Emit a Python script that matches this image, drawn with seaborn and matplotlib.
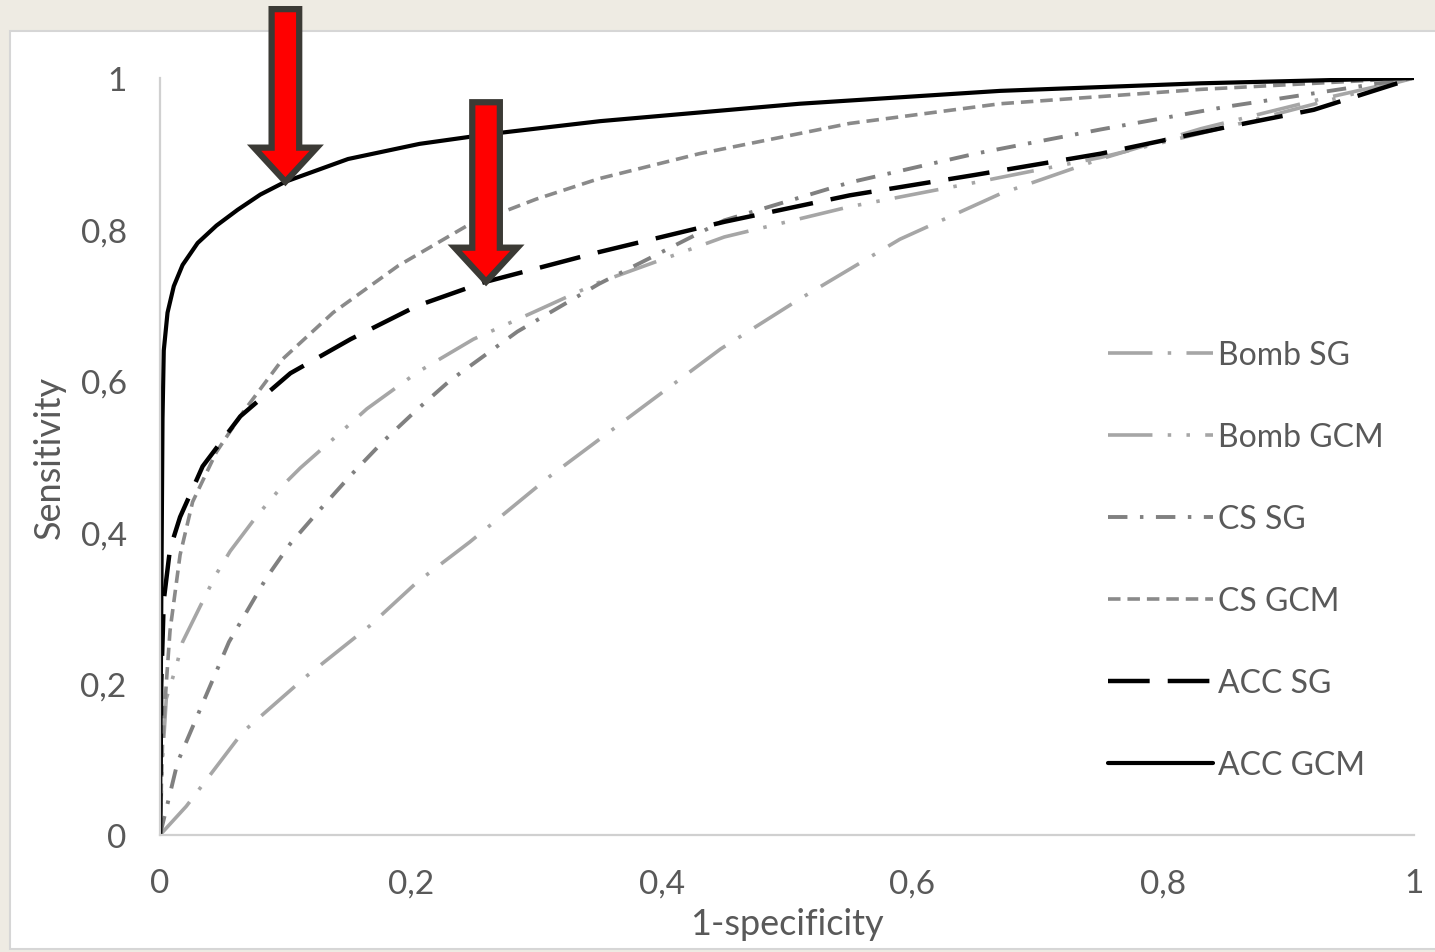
import numpy as np
import pandas as pd
import matplotlib
matplotlib.use("Agg")
import matplotlib.pyplot as plt
from matplotlib.patches import Rectangle, FancyArrow
import seaborn as sns

# ROC curves (x = 1-specificity, y = sensitivity)
bomb_sg_x = [0, 0.021, 0.066, 0.117, 0.167, 0.205, 0.247, 0.311, 0.383, 0.447, 0.51, 0.59, 0.67, 0.75, 0.83, 0.92, 1]
bomb_sg_y = [0, 0.038, 0.136, 0.21, 0.276, 0.334, 0.387, 0.474, 0.563, 0.642, 0.708, 0.787, 0.847, 0.893, 0.933, 0.97, 1]

bomb_gcm_x = [0, 0.002, 0.005, 0.013, 0.018, 0.032, 0.045, 0.056, 0.077, 0.098, 0.112, 0.138, 0.165, 0.205, 0.25,
              0.297, 0.35, 0.45, 0.55, 0.65, 0.75, 0.85, 1]
bomb_gcm_y = [0, 0.1, 0.18, 0.223, 0.255, 0.302, 0.345, 0.375, 0.421, 0.462, 0.485, 0.523, 0.563, 0.611, 0.655,
              0.69, 0.73, 0.79, 0.83, 0.862, 0.895, 0.935, 1]

cs_sg_x = [0, 0.014, 0.032, 0.055, 0.085, 0.104, 0.125, 0.152, 0.178, 0.205, 0.231, 0.285, 0.35, 0.45, 0.55,
           0.65, 0.75, 0.85, 1]
cs_sg_y = [0, 0.096, 0.166, 0.255, 0.34, 0.385, 0.425, 0.475, 0.52, 0.562, 0.6, 0.665, 0.728, 0.812, 0.862,
           0.9, 0.932, 0.962, 1]

cs_gcm_x = [0, 0.002, 0.005, 0.008, 0.016, 0.026, 0.045, 0.066, 0.098, 0.138, 0.19, 0.245, 0.3, 0.35, 0.43,
            0.55, 0.67, 0.83, 1]
cs_gcm_y = [0, 0.12, 0.2, 0.27, 0.37, 0.44, 0.506, 0.558, 0.629, 0.69, 0.752, 0.805, 0.84, 0.867, 0.9,
            0.94, 0.966, 0.985, 1]

acc_sg_x = [0, 0.001, 0.003, 0.008, 0.016, 0.034, 0.064, 0.104, 0.152, 0.205, 0.258, 0.35, 0.45, 0.55, 0.65,
            0.75, 0.85, 0.92, 1]
acc_sg_y = [0, 0.2, 0.31, 0.378, 0.42, 0.487, 0.553, 0.61, 0.655, 0.699, 0.73, 0.77, 0.81, 0.845, 0.872,
            0.9, 0.935, 0.958, 1]

acc_gcm_x = [0, 0.001, 0.002, 0.003, 0.006, 0.011, 0.018, 0.03, 0.045, 0.062, 0.08, 0.1, 0.15, 0.207, 0.263,
             0.351, 0.51, 0.67, 0.83, 1]
acc_gcm_y = [0, 0.3, 0.55, 0.64, 0.69, 0.725, 0.753, 0.782, 0.805, 0.826, 0.846, 0.863, 0.893, 0.913, 0.926,
             0.943, 0.966, 0.983, 0.993, 1]

labels = ["Bomb SG", "Bomb GCM", "CS SG", "CS GCM", "ACC SG", "ACC GCM"]
xs = [bomb_sg_x, bomb_gcm_x, cs_sg_x, cs_gcm_x, acc_sg_x, acc_gcm_x]
ys = [bomb_sg_y, bomb_gcm_y, cs_sg_y, cs_gcm_y, acc_sg_y, acc_gcm_y]

ticks = [0, 0.2, 0.4, 0.6, 0.8, 1]
tick_labels = ["0", "0,2", "0,4", "0,6", "0,8", "1"]

# arrows point at ACC GCM and ACC SG
arrow_x = [0.1, 0.26]
arrow_top = [1.091, 0.968]

# line styles (dash lengths in points)
colors = ["#a6a6a6", "#a6a6a6", "#808080", "#8a8a8a", "#000000", "#000000"]
widths = [2.6, 2.6, 2.8, 2.6, 3.2, 3.0]
dashes = [(32, 11, 2.5, 11), (32, 11, 2.5, 11, 2.5, 11), (14, 9, 2.5, 9), (9, 5), (30, 13), None]

sns.set_style("white")
plt.rcParams["font.family"] = ["Lato", "DejaVu Sans"]
plt.rcParams["lines.scale_dashes"] = False

text_col = "#595959"
fig = plt.figure(figsize=(14.35, 9.53), dpi=100)
fig.patch.set_facecolor("#eeebe3")
panel = Rectangle((10 / 1435, 0.003), 1.0, 0.9635, transform=fig.transFigure,
                  facecolor="white", edgecolor="#d6d6d6", linewidth=1.5, zorder=-1)
fig.patches.append(panel)

ax = fig.add_axes([0.1115, 0.1228, 0.8739, 0.7943])
ax.set_facecolor("none")

for lab, x, y, c, w, d in zip(labels, xs, ys, colors, widths, dashes):
    df = pd.DataFrame({"x": x, "y": y})
    sns.lineplot(data=df, x="x", y="y", ax=ax, color=c, linewidth=w, label=lab, estimator=None, sort=False)
    if d is not None:
        ax.lines[-1].set_dashes(d)

ax.set_xlim(0, 1)
ax.set_ylim(0, 1)
ax.set_xticks(ticks)
ax.set_xticklabels(tick_labels)
ax.set_yticks(ticks)
ax.set_yticklabels(tick_labels)
ax.tick_params(length=0, labelsize=24, labelcolor=text_col)
ax.tick_params(axis="x", pad=24)
ax.tick_params(axis="y", pad=24)
for s in ["top", "right"]:
    ax.spines[s].set_visible(False)
for s in ["left", "bottom"]:
    ax.spines[s].set_color("#d0d0d0")
    ax.spines[s].set_linewidth(1.6)

ax.set_xlabel("1-specificity", fontsize=26, color=text_col)
ax.set_ylabel("Sensitivity", fontsize=26, color=text_col)
ax.xaxis.set_label_coords(0.5, -0.095)
ax.yaxis.set_label_coords(-0.075, 0.5)

leg = ax.legend(loc="center left", bbox_to_anchor=(0.772, 0.411), bbox_transform=fig.transFigure,
                frameon=False, fontsize=23, handlelength=3.3, handletextpad=0.15,
                labelspacing=1.63, borderpad=0, borderaxespad=0)
for t in leg.get_texts():
    t.set_color(text_col)

# red arrows
for ax_x, top, xx, yy in zip(arrow_x, arrow_top, [acc_gcm_x, acc_sg_x], [acc_gcm_y, acc_sg_y]):
    tip = np.interp(ax_x, xx, yy)
    arr = FancyArrow(ax_x, top, 0, -(top - tip), width=0.022, head_width=0.05, head_length=0.045,
                     length_includes_head=True, facecolor="#ff0000", edgecolor="#3b3a35",
                     linewidth=4.5, joinstyle="miter", clip_on=False, zorder=10)
    ax.add_patch(arr)

fig.savefig("out.png", dpi=100, facecolor=fig.get_facecolor())
